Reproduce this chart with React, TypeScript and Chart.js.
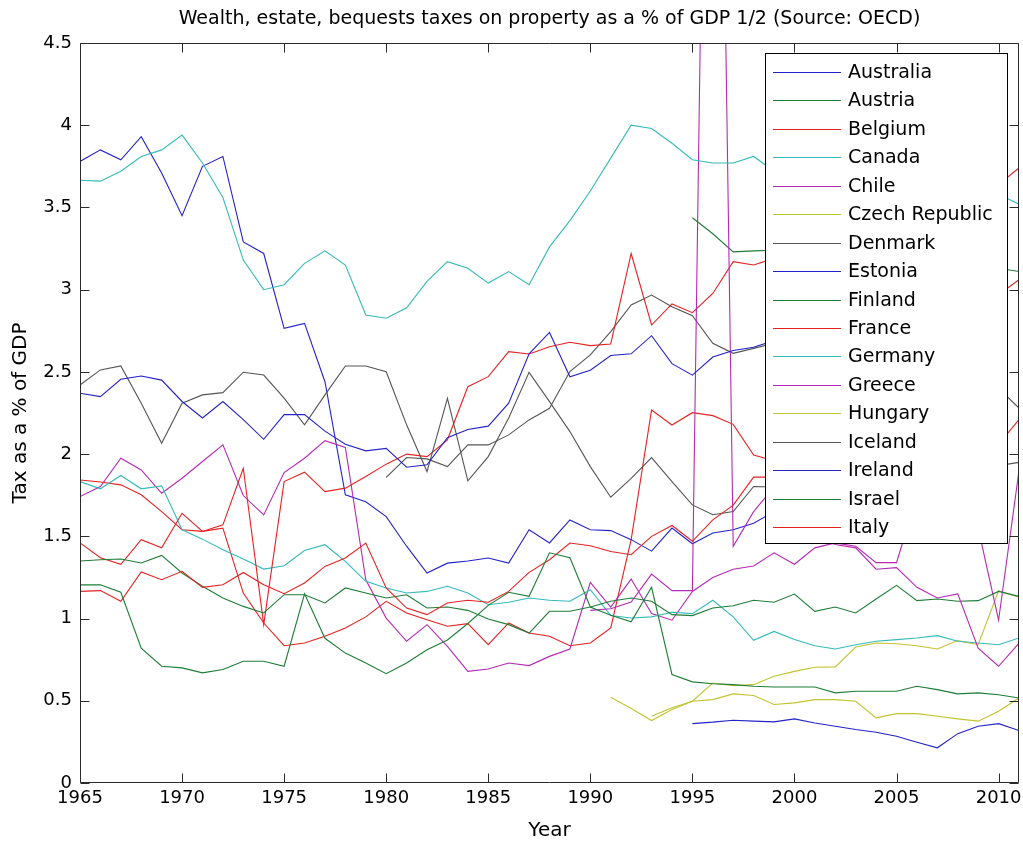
import React, { useEffect, useRef } from 'react';
import { Chart, registerables } from 'chart.js';

Chart.register(...registerables);

const YEARS = [1965, 1966, 1967, 1968, 1969, 1970, 1971, 1972, 1973, 1974, 1975, 1976, 1977, 1978, 1979, 1980, 1981, 1982, 1983, 1984, 1985, 1986, 1987, 1988, 1989, 1990, 1991, 1992, 1993, 1994, 1995, 1996, 1997, 1998, 1999, 2000, 2001, 2002, 2003, 2004, 2005, 2006, 2007, 2008, 2009, 2010, 2011];
const X_TICKS = [1965, 1970, 1975, 1980, 1985, 1990, 1995, 2000, 2005, 2010];
const Y_TICKS = [0, 0.5, 1, 1.5, 2, 2.5, 3, 3.5, 4, 4.5];

const missing = (n: number) => Array(n).fill(null);

const australia = [2.37, 2.35, 2.455, 2.475, 2.45, 2.32, 2.22, 2.32, 2.21, 2.09, 2.24, 2.24, 2.14, 2.06, 2.02, 2.035, 1.92, 1.935, 2.1, 2.15, 2.17, 2.31, 2.61, 2.74, 2.47, 2.51, 2.6, 2.61, 2.72, 2.55, 2.48, 2.59, 2.63, 2.65, 2.69, 2.7, 2.62, 2.68, 2.78, 2.75, 2.7, 2.68, 2.7, 2.55, 2.5, 2.45, null];
const austria = [1.205, 1.205, 1.16, 0.82, 0.71, 0.7, 0.67, 0.69, 0.74, 0.74, 0.71, 1.15, 0.88, 0.79, 0.73, 0.665, 0.73, 0.81, 0.87, 0.97, 1.08, 1.16, 1.135, 1.4, 1.37, 1.07, 1.02, 0.98, 1.19, 0.66, 0.615, 0.604, 0.598, 0.588, 0.584, 0.584, 0.584, 0.548, 0.558, 0.558, 0.558, 0.588, 0.568, 0.542, 0.548, 0.537, 0.517];
const belgium = [1.165, 1.17, 1.105, 1.283, 1.236, 1.287, 1.19, 1.206, 1.28, 1.206, 1.151, 1.216, 1.317, 1.368, 1.459, 1.186, 1.064, 1.024, 1.095, 1.111, 1.099, 1.165, 1.281, 1.358, 1.459, 1.443, 1.408, 1.388, 1.5, 1.566, 1.47, 1.6, 1.69, 1.86, 1.86, 1.9, 1.95, 2.0, 2.1, 2.3, 2.5, 2.7, 2.8, 2.85, 2.9, 2.97, 3.06];
const canada = [3.665, 3.66, 3.72, 3.81, 3.85, 3.94, 3.77, 3.56, 3.18, 3.0, 3.03, 3.16, 3.236, 3.15, 2.846, 2.826, 2.89, 3.05, 3.17, 3.13, 3.04, 3.11, 3.03, 3.26, 3.42, 3.6, 3.8, 4.0, 3.98, 3.89, 3.79, 3.77, 3.77, 3.81, 3.72, 3.62, 3.55, 3.52, 3.5, 3.46, 3.4, 3.38, 3.35, 3.3, 3.5, 3.58, 3.52];
const chile = [...missing(25), 1.05, 1.06, 1.1, 1.27, 1.17, 1.17, 9.9, 1.44, 1.65, 1.8, 1.6, 1.5, 1.45, 1.43, 1.3, 1.31, 1.19, 1.125, 1.15, 0.82, 0.71, 0.85];
const czech = [...missing(28), 0.406, 0.457, 0.497, 0.507, 0.542, 0.532, 0.477, 0.487, 0.507, 0.507, 0.497, 0.396, 0.422, 0.422, 0.406, 0.39, 0.376, 0.436, 0.517];
const denmark = [2.42, 2.512, 2.536, 2.309, 2.066, 2.309, 2.36, 2.374, 2.498, 2.481, 2.34, 2.178, 2.36, 2.536, 2.536, 2.501, 2.178, 1.894, 2.339, 1.837, 1.985, 2.22, 2.497, 2.319, 2.137, 1.924, 1.738, 1.853, 1.979, 1.833, 1.691, 1.631, 1.651, 1.803, 1.8, 1.85, 1.85, 1.88, 1.9, 1.9, 1.92, 1.95, 1.95, 1.9, 1.92, 1.93, 1.95];
const estonia = [...missing(30), 0.361, 0.37, 0.382, 0.376, 0.372, 0.39, 0.365, 0.345, 0.325, 0.309, 0.284, 0.248, 0.214, 0.3, 0.345, 0.361, 0.319];
const finland = [1.35, 1.358, 1.362, 1.338, 1.384, 1.277, 1.196, 1.125, 1.074, 1.034, 1.145, 1.145, 1.095, 1.186, 1.155, 1.125, 1.145, 1.064, 1.07, 1.05, 0.997, 0.963, 0.912, 1.044, 1.044, 1.07, 1.105, 1.125, 1.105, 1.024, 1.018, 1.064, 1.078, 1.111, 1.099, 1.149, 1.044, 1.07, 1.034, 1.119, 1.202, 1.109, 1.119, 1.105, 1.109, 1.165, 1.135];
const france = [1.46, 1.37, 1.33, 1.48, 1.43, 1.64, 1.53, 1.57, 1.914, 0.963, 1.833, 1.89, 1.772, 1.793, 1.864, 1.939, 2.0, 1.985, 2.087, 2.41, 2.471, 2.623, 2.609, 2.653, 2.68, 2.66, 2.67, 3.22, 2.785, 2.913, 2.86, 2.977, 3.17, 3.15, 3.19, 3.15, 3.1, 3.2, 3.3, 3.35, 3.4, 3.45, 3.4, 3.4, 3.5, 3.64, 3.74];
const germany = [1.833, 1.789, 1.87, 1.789, 1.807, 1.54, 1.483, 1.419, 1.362, 1.301, 1.321, 1.414, 1.449, 1.348, 1.226, 1.186, 1.155, 1.165, 1.196, 1.155, 1.084, 1.099, 1.125, 1.111, 1.105, 1.175, 1.018, 1.003, 1.01, 1.038, 1.03, 1.111, 1.01, 0.868, 0.922, 0.872, 0.835, 0.815, 0.841, 0.862, 0.872, 0.882, 0.896, 0.862, 0.851, 0.841, 0.882];
const greece = [1.742, 1.803, 1.975, 1.904, 1.762, 1.853, 1.955, 2.056, 1.748, 1.63, 1.888, 1.975, 2.082, 2.04, 1.236, 1.003, 0.862, 0.963, 0.831, 0.679, 0.693, 0.73, 0.714, 0.77, 0.815, 1.22, 1.07, 1.24, 1.03, 0.99, 1.165, 1.25, 1.3, 1.32, 1.4, 1.33, 1.43, 1.46, 1.44, 1.34, 1.34, 1.75, 1.8, 1.7, 1.55, 0.99, 1.9];
const hungary = [...missing(26), 0.521, 0.453, 0.38, 0.447, 0.497, 0.608, 0.592, 0.598, 0.649, 0.679, 0.704, 0.706, 0.827, 0.851, 0.847, 0.835, 0.815, 0.866, 0.841, 1.169, 1.129];
const iceland = [...missing(15), 1.859, 1.979, 1.971, 1.924, 2.056, 2.056, 2.117, 2.208, 2.279, 2.502, 2.603, 2.745, 2.907, 2.967, 2.896, 2.842, 2.674, 2.613, 2.643, 2.674, 2.7, 2.6, 2.65, 2.8, 2.9, 3.0, 3.1, 2.9, 2.6, 2.4, 2.4, 2.28];
const ireland = [3.78, 3.85, 3.79, 3.93, 3.71, 3.45, 3.75, 3.81, 3.29, 3.22, 2.765, 2.795, 2.44, 1.752, 1.71, 1.62, 1.44, 1.277, 1.337, 1.35, 1.368, 1.337, 1.54, 1.46, 1.6, 1.54, 1.535, 1.48, 1.41, 1.55, 1.455, 1.52, 1.54, 1.58, 1.65, 1.75, 1.8, 1.9, 2.1, 2.3, 2.5, 2.8, 2.5, 2.0, 1.7, 1.6, null];
const israel = [...missing(30), 3.437, 3.34, 3.23, 3.236, 3.24, 3.25, 3.3, 3.2, 3.25, 3.2, 3.15, 3.1, 3.05, 3.1, 3.15, 3.13, 3.11];
const italy = [1.843, 1.83, 1.813, 1.753, 1.65, 1.54, 1.53, 1.55, 1.155, 0.973, 0.835, 0.851, 0.892, 0.943, 1.01, 1.105, 1.034, 0.993, 0.953, 0.969, 0.841, 0.973, 0.912, 0.892, 0.835, 0.851, 0.943, 1.48, 2.268, 2.177, 2.252, 2.234, 2.181, 1.995, 1.96, 1.95, 2.0, 2.05, 2.1, 2.15, 2.2, 2.25, 2.2, 2.0, 2.05, 2.06, 2.21];

const COUNTRIES = ['Australia', 'Austria', 'Belgium', 'Canada', 'Chile', 'Czech Republic', 'Denmark', 'Estonia', 'Finland', 'France', 'Germany', 'Greece', 'Hungary', 'Iceland', 'Ireland', 'Israel', 'Italy'];
const SERIES = [australia, austria, belgium, canada, chile, czech, denmark, estonia, finland, france, germany, greece, hungary, iceland, ireland, israel, italy];

const BLUE = '#2323c8';
const GREEN = '#1f7d37';
const RED = '#e52222';
const CYAN = '#35baba';
const MAGENTA = '#b42ab4';
const YELLOW = '#c3c332';
const GREY = '#555555';
const LINE_COLORS = [BLUE, GREEN, RED, CYAN, MAGENTA, YELLOW, GREY, BLUE, GREEN, RED, CYAN, MAGENTA, YELLOW, GREY, BLUE, GREEN, RED];

const FONT = '"DejaVu Sans", "Liberation Sans", Arial, sans-serif';
const TITLE = 'Wealth, estate, bequests taxes on property as a % of GDP 1/2 (Source: OECD)';

const framePlugin = {
  id: 'matlabFrame',
  afterDatasetsDraw(chart: any) {
    const { ctx, chartArea } = chart;
    const { left, right, top, bottom } = chartArea;
    const xs = chart.scales.x;
    const ys = chart.scales.y;
    const L = Math.round(left) + 0.5;
    const R = Math.round(right) - 0.5;
    const T = Math.round(top) + 0.5;
    const B = Math.round(bottom) - 0.5;
    ctx.save();
    ctx.strokeStyle = '#2a2a2a';
    ctx.lineWidth = 1;
    ctx.beginPath();
    ctx.rect(L, T, R - L, B - T);
    const tl = 9;
    X_TICKS.forEach((v) => {
      const px = Math.round(xs.getPixelForValue(v)) + 0.5;
      ctx.moveTo(px, B);
      ctx.lineTo(px, B - tl);
      ctx.moveTo(px, T);
      ctx.lineTo(px, T + tl);
    });
    Y_TICKS.forEach((v) => {
      const py = Math.round(ys.getPixelForValue(v)) + 0.5;
      ctx.moveTo(L, py);
      ctx.lineTo(L + tl, py);
      ctx.moveTo(R, py);
      ctx.lineTo(R - tl, py);
    });
    ctx.stroke();
    ctx.restore();
  },
  afterDraw(chart: any) {
    const { ctx, chartArea } = chart;
    ctx.save();
    ctx.fillStyle = '#000';
    ctx.font = `19px ${FONT}`;
    ctx.textAlign = 'center';
    ctx.textBaseline = 'middle';
    ctx.fillText(TITLE, (chartArea.left + chartArea.right) / 2, 19);
    const bx = 765.5, by = 53.5, bw = 242, bh = 490;
    ctx.fillStyle = '#fff';
    ctx.fillRect(bx, by, bw, bh);
    ctx.strokeStyle = '#000';
    ctx.lineWidth = 1;
    ctx.strokeRect(bx, by, bw, bh);
    ctx.font = `19px ${FONT}`;
    ctx.textAlign = 'left';
    ctx.textBaseline = 'middle';
    chart.data.datasets.forEach((ds: any, i: number) => {
      const yy = Math.round(72 + i * 28.44) + 0.5;
      ctx.strokeStyle = ds.borderColor;
      ctx.beginPath();
      ctx.moveTo(773, yy);
      ctx.lineTo(841, yy);
      ctx.stroke();
      ctx.fillStyle = '#000';
      ctx.fillText(ds.label, 848, yy + 1);
    });
    ctx.restore();
  },
};

export default function App() {
  const ref = useRef<HTMLCanvasElement>(null);
  useEffect(() => {
    document.body.style.margin = '0';
    const canvas = ref.current;
    if (!canvas) return;
    const chart = new Chart(canvas, {
      type: 'line',
      data: {
        datasets: SERIES.map((vals, i) => ({
          label: COUNTRIES[i],
          data: vals.map((v, j) => ({ x: YEARS[j], y: v })),
          borderColor: LINE_COLORS[i],
          backgroundColor: LINE_COLORS[i],
          borderWidth: 1.1,
          pointRadius: 0,
          tension: 0,
          spanGaps: false,
          fill: false,
        })),
      },
      options: {
        responsive: false,
        animation: false,
        events: [],
        layout: { padding: { top: 43, right: 4, left: 0, bottom: 0 } },
        plugins: {
          legend: { display: false },
          tooltip: { enabled: false },
          title: { display: false },
        },
        scales: {
          x: {
            type: 'linear',
            min: 1965,
            max: 2011,
            afterBuildTicks: (s: any) => {
              s.ticks = X_TICKS.map((v) => ({ value: v }));
            },
            afterFit: (s: any) => {
              s.height = 62;
              s.paddingLeft = 0;
              s.paddingRight = 0;
            },
            grid: { display: false, drawTicks: false },
            border: { display: false },
            ticks: {
              color: '#000',
              font: { family: FONT, size: 18 },
              padding: 5,
              maxRotation: 0,
              autoSkip: false,
              callback: (v: any) => String(v),
            },
            title: {
              display: true,
              text: 'Year',
              color: '#000',
              font: { family: FONT, size: 20 },
              padding: { top: 0, bottom: 2 },
            },
          },
          y: {
            type: 'linear',
            min: 0,
            max: 4.5,
            afterBuildTicks: (s: any) => {
              s.ticks = Y_TICKS.map((v) => ({ value: v }));
            },
            afterFit: (s: any) => {
              s.width = 80;
              s.paddingTop = 0;
              s.paddingBottom = 0;
            },
            grid: { display: false, drawTicks: false },
            border: { display: false },
            ticks: {
              color: '#000',
              font: { family: FONT, size: 18 },
              padding: 8,
              autoSkip: false,
              callback: (v: any) => String(v),
            },
            title: {
              display: true,
              text: 'Tax as a % of GDP',
              color: '#000',
              font: { family: FONT, size: 20 },
              padding: { top: 9, bottom: 0 },
            },
          },
        },
      },
      plugins: [framePlugin],
    });
    return () => chart.destroy();
  }, []);
  return (
    <div style={{ width: 1023, height: 845, background: '#fff' }}>
      <canvas ref={ref} width={1023} height={845} style={{ display: 'block' }} />
    </div>
  );
}
